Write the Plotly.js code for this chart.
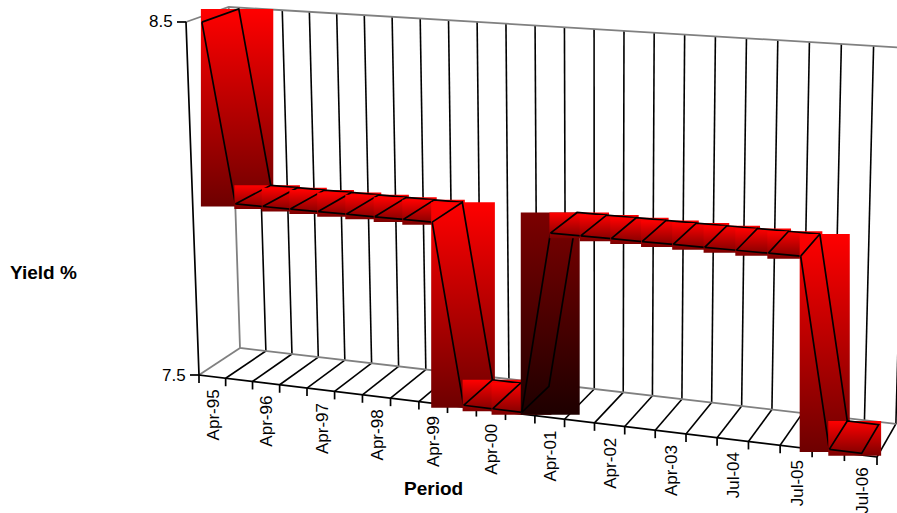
<!DOCTYPE html>
<html>
<head>
<meta charset="utf-8">
<script src="https://cdn.plot.ly/plotly-3.0.1.min.js"></script>
<style>html,body{margin:0;padding:0;background:#fff}#chart{width:897px;height:513px}</style>
</head>
<body>
<div id="chart"></div>
<script>
// Yield by period, one value per band of the category axis
const periodTicks = ['Apr-95','Apr-96','Apr-97','Apr-98','Apr-99','Apr-00','Apr-01','Apr-02','Apr-03','Jul-04','Jul-05','Jul-06'];
const yieldValues = [8.5,
  8.0,8.0,8.0,8.0,8.0,8.0,8.0,8.0,
  7.5,7.5,7.5,
  8.0,8.0,8.0,8.0,8.0,8.0,8.0,8.0,8.0,
  7.5,7.5];
const yieldTicks = [7.5, 8.5];
const yieldRange = [7.5, 8.5];
const bandCount = yieldValues.length;
const ribbonFront = 0.05, ribbonBack = 0.92;

// Perspective view of the box: u along the periods, z into the page, v up the yield axis
function project(u, z, v) {
  const w = 1 - 0.1*u + 0.0366*z - 0.0314*v;
  return [(199 + 590.3*u + 49.78*z - 18.84*v)/w, (375 + 36.3*u - 14.26*z - 353.7*v)/w];
}
const toV = val => (val - yieldRange[0])/(yieldRange[1] - yieldRange[0]);

function polyline(points, color, width) {
  return {x: points.map(p => p ? p[0] : null), y: points.map(p => p ? p[1] : null),
    mode:'lines', line:{color:color, width:width}, hoverinfo:'skip', showlegend:false, connectgaps:false};
}

const traces = [];

// Gridlines on the back wall and the floor
const grey = '#808080', ink = '#000000';
const backLines = [], floorLines = [];
for (let k = 1; k <= bandCount; k++) {
  const u = k/bandCount;
  backLines.push(project(u,1,0), project(u,1,1), null);
  floorLines.push(project(u,0,0), project(u,1,0), null);
}
traces.push(polyline(backLines, ink, 1.6));
traces.push(polyline(floorLines, ink, 1.6));
traces.push(polyline([project(0,0,1), project(0,1,1), project(1,1,1), null,
  project(0,1,1), project(0,1,0), project(1,1,0), null,
  project(0,0,0), project(0,1,0)], grey, 1.8));

// Front axes with their tick marks
const axisLines = [project(0,0,1), project(0,0,0), project(1,0,0), null];
for (let k = 0; k <= bandCount; k++) {
  const p = project(k/bandCount,0,0);
  axisLines.push(p, [p[0], p[1]+8], null);
}
yieldTicks.forEach(t => {
  const p = project(0,0,toV(t));
  axisLines.push([p[0]-9, p[1]], p, null);
});
traces.push(polyline(axisLines, ink, 1.7));

// Ribbon panels: each one fills its bounding box with a vertical gradient, then gets its outline
function panelShade(dv) {
  if (dv > 0.05) return ['#7c0000', '#1e0000'];
  if (dv < -0.05) return ['#ff0000', '#6e0000'];
  return ['#ff0000', '#7c0000'];
}
for (let i = 0; i < bandCount - 1; i++) {
  const u0 = (i+0.5)/bandCount, u1 = (i+1.5)/bandCount;
  const v0 = toV(yieldValues[i]), v1 = toV(yieldValues[i+1]);
  const quad = [project(u0,ribbonFront,v0), project(u1,ribbonFront,v1), project(u1,ribbonBack,v1), project(u0,ribbonBack,v0)];
  const xs = quad.map(p => p[0]), ys = quad.map(p => p[1]);
  const left = Math.min(...xs) - 1, right = Math.max(...xs) + 2.5;
  const top = Math.min(...ys), bottom = Math.max(...ys) + 2.5;
  const shade = panelShade(v1 - v0);
  traces.push({x:[left,right,right,left,left], y:[top,top,bottom,bottom,top],
    mode:'none', fill:'toself', hoverinfo:'skip', showlegend:false,
    fillgradient:{type:'vertical', start:top, stop:bottom, colorscale:[[0,shade[0]],[1,shade[1]]]}});
  traces.push(polyline([quad[0],quad[1],quad[2],quad[3],quad[0]], ink, 1.7));
}

const fontFamily = '"Liberation Sans", Arial, sans-serif';
const annotations = [];
periodTicks.forEach((label, n) => {
  const p = project((2*n+0.5)/bandCount,0,0);
  annotations.push({x:p[0]+1, y:p[1]+11, text:label, textangle:-90, xanchor:'center', yanchor:'top',
    showarrow:false, font:{family:fontFamily, size:17, color:'#000'}});
});
yieldTicks.forEach(t => {
  const p = project(0,0,toV(t));
  annotations.push({x:p[0]-11, y:p[1], text:t.toFixed(1), xanchor:'right', yanchor:'middle',
    showarrow:false, font:{family:fontFamily, size:17, color:'#000'}});
});
annotations.push({x:433, y:488, text:'<b>Period</b>', xanchor:'center', yanchor:'middle', showarrow:false,
  font:{family:fontFamily, size:19, color:'#000'}});
annotations.push({x:43, y:272, text:'<b>Yield %</b>', xanchor:'center', yanchor:'middle', showarrow:false,
  font:{family:fontFamily, size:19, color:'#000'}});

const layout = {
  width:897, height:513, margin:{l:0,r:0,t:0,b:0},
  paper_bgcolor:'#fff', plot_bgcolor:'#fff', showlegend:false,
  xaxis:{range:[0,897], visible:false, fixedrange:true},
  yaxis:{range:[513,0], visible:false, fixedrange:true},
  annotations:annotations
};
Plotly.newPlot('chart', traces, layout, {displayModeBar:false, staticPlot:true});
</script>
</body>
</html>
